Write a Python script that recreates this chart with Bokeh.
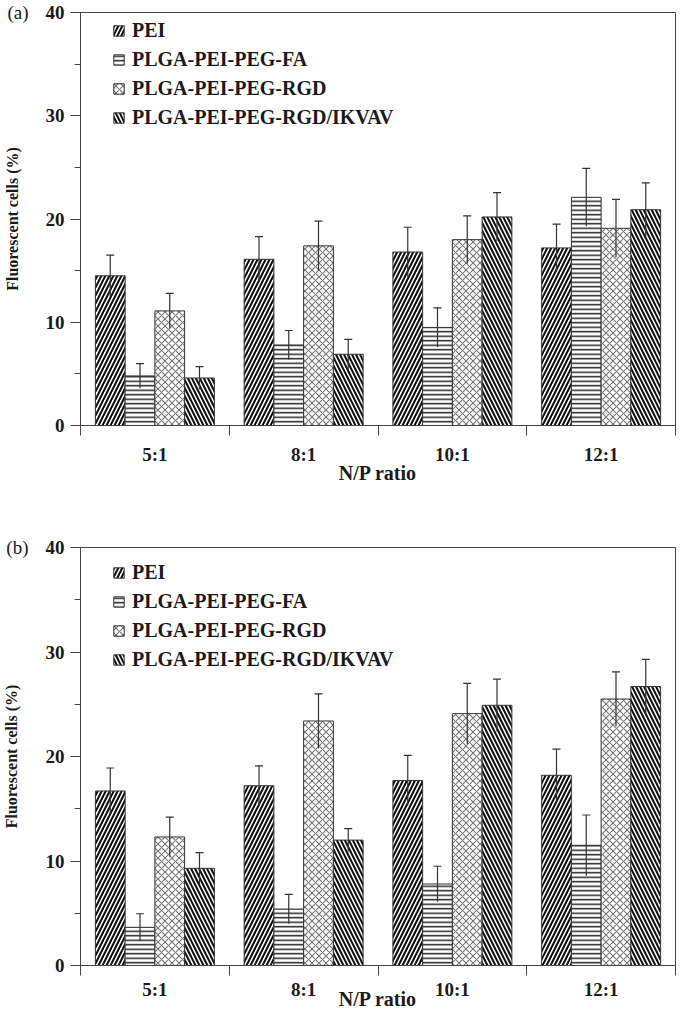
from bokeh.plotting import figure
from bokeh.models import (ColumnDataSource, Range1d, FixedTicker, Whisker, TeeHead,
                          Legend, LegendItem, LinearAxis)
from bokeh.layouts import column
from bokeh.transform import dodge
from bokeh.embed import file_html
from bokeh.resources import INLINE

# ---------------- data ----------------
categories = ["5:1", "8:1", "10:1", "12:1"]
series = ["PEI", "PLGA-PEI-PEG-FA", "PLGA-PEI-PEG-RGD", "PLGA-PEI-PEG-RGD/IKVAV"]
y_ticks = [0, 10, 20, 30, 40]
y_minor = [5, 15, 25, 35]
x_title = "N/P ratio"
y_title = "Fluorescent cells (%)"

# panel (a)
a_pei = [14.5, 16.1, 16.8, 17.2]
a_pei_err = [2.0, 2.2, 2.4, 2.3]
a_fa = [4.8, 7.8, 9.5, 22.1]
a_fa_err = [1.2, 1.4, 1.9, 2.8]
a_rgd = [11.1, 17.4, 18.0, 19.1]
a_rgd_err = [1.7, 2.4, 2.3, 2.8]
a_ikvav = [4.6, 6.9, 20.2, 20.9]
a_ikvav_err = [1.1, 1.45, 2.35, 2.6]

# panel (b)
b_pei = [16.7, 17.2, 17.7, 18.2]
b_pei_err = [2.2, 1.9, 2.4, 2.5]
b_fa = [3.65, 5.4, 7.8, 11.5]
b_fa_err = [1.3, 1.4, 1.7, 2.9]
b_rgd = [12.3, 23.4, 24.1, 25.5]
b_rgd_err = [1.9, 2.6, 2.9, 2.6]
b_ikvav = [9.3, 12.0, 24.9, 26.7]
b_ikvav_err = [1.5, 1.1, 2.5, 2.6]

# ---------------- styles ----------------
offsets = [-0.3, -0.1, 0.1, 0.3]
hatch_styles = [
    dict(hatch_pattern="right_diagonal_line", hatch_color="#111111", hatch_scale=8, hatch_weight=2.1),
    dict(hatch_pattern="horizontal_line", hatch_color="#222222", hatch_scale=4.5, hatch_weight=1.5),
    dict(hatch_pattern="diagonal_cross", hatch_color="#777777", hatch_scale=7, hatch_weight=1.1),
    dict(hatch_pattern="left_diagonal_line", hatch_color="#111111", hatch_scale=8, hatch_weight=2.1),
]
FONT = "Liberation Serif"
AXIS_COLOR = "#444444"
TEXT_COLOR = "#1a1a1a"
ITEM_H = 24
ITEM_GAP = 5


def make_panel(tag, values, errors, height, border_top, frame_h, label_standoff,
               title_standoff, legend_top):
    border_bottom = height - border_top - frame_h
    p = figure(width=677, height=height, x_range=Range1d(0, len(categories)), y_range=Range1d(0, 40),
               output_backend="svg", toolbar_location=None,
               min_border_left=70, min_border_right=2, min_border_top=border_top,
               min_border_bottom=border_bottom)
    p.xgrid.visible = False
    p.ygrid.visible = False
    p.outline_line_color = AXIS_COLOR
    p.outline_line_width = 1
    p.background_fill_color = "white"
    p.border_fill_color = "white"

    xc = [i + 0.5 for i in range(len(categories))]

    # main y axis: numbers and ticks
    ya = p.yaxis[0]
    ya.ticker = FixedTicker(ticks=y_ticks, minor_ticks=y_minor)
    ya.major_tick_out = 10
    ya.major_tick_in = 0
    ya.minor_tick_out = 6
    ya.minor_tick_in = 0
    ya.axis_line_color = AXIS_COLOR
    ya.major_tick_line_color = AXIS_COLOR
    ya.minor_tick_line_color = AXIS_COLOR
    ya.major_label_text_font = FONT
    ya.major_label_text_font_style = "bold"
    ya.major_label_text_font_size = "19px"
    ya.major_label_text_color = TEXT_COLOR
    ya.major_label_standoff = 6

    # outer left axis: carries the panel tag at the top and the y title
    tag_axis = LinearAxis(ticker=FixedTicker(ticks=[y_ticks[-1]], minor_ticks=[]),
                          major_label_overrides={y_ticks[-1]: tag},
                          axis_line_color=None, major_tick_line_color=None,
                          minor_tick_line_color=None, major_tick_out=0, major_tick_in=0,
                          major_label_standoff=14,
                          major_label_text_font=FONT, major_label_text_font_size="19px",
                          major_label_text_color=TEXT_COLOR,
                          axis_label=y_title, axis_label_standoff=-17,
                          axis_label_text_font=FONT, axis_label_text_font_style="bold",
                          axis_label_text_font_size="16px", axis_label_text_color=TEXT_COLOR)
    p.add_layout(tag_axis, "left")

    # x axis: labels at category centres, ticks at category boundaries
    xa = p.xaxis[0]
    xa.ticker = FixedTicker(ticks=xc, minor_ticks=list(range(len(categories) + 1)))
    xa.major_label_overrides = {x: c for x, c in zip(xc, categories)}
    xa.major_tick_line_color = None
    xa.major_tick_out = 0
    xa.major_tick_in = 0
    xa.minor_tick_out = 10
    xa.minor_tick_in = 0
    xa.minor_tick_line_color = AXIS_COLOR
    xa.axis_line_color = AXIS_COLOR
    xa.major_label_text_font = FONT
    xa.major_label_text_font_style = "bold"
    xa.major_label_text_font_size = "19px"
    xa.major_label_text_color = TEXT_COLOR
    xa.major_label_standoff = label_standoff
    xa.axis_label = x_title
    xa.axis_label_standoff = title_standoff
    xa.axis_label_text_font = FONT
    xa.axis_label_text_font_style = "bold"
    xa.axis_label_text_font_size = "20px"
    xa.axis_label_text_color = TEXT_COLOR

    items = []
    for k, name in enumerate(series):
        vals = values[k]
        errs = errors[k]
        src = ColumnDataSource(dict(
            x=xc, top=vals,
            upper=[v + e for v, e in zip(vals, errs)],
            lower=[v - e for v, e in zip(vals, errs)],
        ))
        r = p.vbar(x=dodge("x", offsets[k], range=p.x_range), top="top", width=0.2, bottom=0,
                   source=src, fill_color="white", line_color="#333333", line_width=1,
                   **hatch_styles[k])
        w = Whisker(base=dodge("x", offsets[k], range=p.x_range), upper="upper", lower="lower",
                    source=src, line_color="#333333", line_width=1.2, level="annotation",
                    upper_head=TeeHead(size=8, line_color="#333333", line_width=1.2),
                    lower_head=None)
        p.add_layout(w)
        items.append(LegendItem(label=name, renderers=[r]))

    legend_h = 4 * ITEM_H + 3 * ITEM_GAP
    legend = Legend(items=items, location=(32, frame_h - legend_top - legend_h),
                    glyph_width=13, glyph_height=13,
                    label_text_font=FONT, label_text_font_style="bold",
                    label_text_font_size="20px", label_text_color=TEXT_COLOR,
                    label_standoff=7, spacing=ITEM_GAP, label_height=ITEM_H, padding=0, margin=0,
                    border_line_color=None, background_fill_alpha=0)
    p.add_layout(legend)
    return p


pa = make_panel("(a)",
                [a_pei, a_fa, a_rgd, a_ikvav],
                [a_pei_err, a_fa_err, a_rgd_err, a_ikvav_err],
                height=532, border_top=12, frame_h=413, label_standoff=8, title_standoff=-6,
                legend_top=6)
pb = make_panel("(b)",
                [b_pei, b_fa, b_rgd, b_ikvav],
                [b_pei_err, b_fa_err, b_rgd_err, b_ikvav_err],
                height=480, border_top=15, frame_h=418, label_standoff=3, title_standoff=-15,
                legend_top=13)

layout = column(pa, pb, spacing=0)
open("out.html", "w").write(file_html(layout, INLINE))
